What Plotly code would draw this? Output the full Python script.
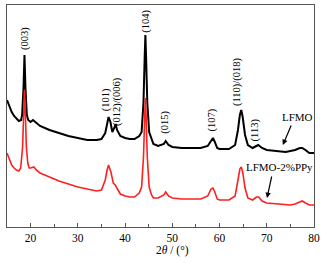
import plotly.graph_objects as go

# 2theta (deg) and intensity (a.u.)
two_theta_lfmo = [15.0, 15.5, 16.0, 16.5, 17.0, 17.5, 18.0, 18.2, 18.5, 18.7, 18.9, 19.2, 19.5,
                  20.0, 20.5, 21.0, 22.0, 24.0, 26.0, 28.0, 30.0, 32.0, 34.0, 35.0, 35.8, 36.2,
                  36.5, 36.9, 37.3, 37.8, 38.0, 38.3, 39.0, 40.0, 41.0, 42.0, 43.0, 43.5, 43.9,
                  44.15, 44.3, 44.45, 44.7, 45.1, 45.6, 46.0, 47.0, 48.2, 48.6, 49.2, 50.0, 52.0,
                  54.0, 56.0, 57.5, 58.2, 58.6, 59.0, 59.5, 60.0, 62.0, 63.3, 63.9, 64.3, 64.6,
                  64.9, 65.4, 66.0, 67.0, 67.8, 68.2, 69.0, 70.0, 72.0, 74.0, 75.0, 76.0, 77.0,
                  77.5, 78.2, 79.0, 80.0]
intensity_lfmo = [127, 120, 115, 111, 108, 106, 107, 112, 140, 172, 140, 112, 107,
                  105, 107, 105, 101, 97, 94, 91, 89, 87, 87, 88, 94, 105,
                  110, 105, 95, 100, 103, 97, 91, 89, 88, 88, 91, 95, 125,
                  170, 192, 170, 125, 95, 87, 83, 81, 83, 86, 82, 80, 79,
                  79, 79, 81, 87, 89, 85, 79, 78, 78, 82, 97, 112, 117,
                  110, 92, 82, 79, 81, 82, 79, 77, 76, 75, 76, 77, 79,
                  79, 77, 74, 74]

two_theta_ppy = [15.0, 15.5, 16.0, 16.5, 17.0, 17.5, 17.9, 18.3, 18.55, 18.7, 18.85, 19.1, 19.4,
                 19.7, 20.0, 20.7, 21.2, 22.0, 24.0, 26.0, 28.0, 30.0, 32.0, 34.0, 35.0, 35.8,
                 36.2, 36.5, 37.0, 37.5, 37.9, 38.3, 39.0, 40.0, 41.0, 42.0, 43.0, 43.5, 43.9,
                 44.15, 44.3, 44.45, 44.7, 45.1, 45.6, 46.0, 47.0, 48.2, 48.6, 49.2, 50.0, 52.0,
                 54.0, 56.0, 57.5, 58.2, 58.6, 59.0, 59.5, 60.0, 62.0, 63.3, 63.9, 64.3, 64.6,
                 64.9, 65.4, 66.0, 67.0, 67.8, 68.3, 69.0, 70.0, 72.0, 74.0, 75.0, 76.0, 77.0,
                 77.5, 78.2, 79.0, 80.0]
intensity_ppy = [74, 67, 62, 59, 57, 56, 59, 80, 120, 137, 120, 80, 64,
                 59, 59, 60, 57, 54, 50, 46, 43, 40, 38, 36, 37, 47,
                 57, 62, 55, 44, 42, 39, 33, 31, 30, 30, 34, 40, 70,
                 110, 129, 110, 70, 40, 32, 29, 29, 32, 35, 31, 29, 28,
                 28, 28, 31, 38, 39, 35, 28, 27, 27, 31, 47, 58, 60,
                 55, 39, 29, 27, 30, 30, 26, 24, 23, 22, 22, 23, 25,
                 26, 24, 22, 22]

peak_labels = ["(003)", "(101)", "(012)/(006)", "(104)", "(015)", "(107)", "(110)/(018)", "(113)"]
peak_label_x = [18.8, 36.0, 38.3, 44.4, 48.4, 58.3, 63.7, 67.6]
peak_label_y = [189, 127, 125, 206, 105, 107, 145, 97]

series_names = ["LFMO", "LFMO-2%PPy"]
x_ticks = [20, 30, 40, 50, 60, 70, 80]

FONT = "Liberation Serif, Times New Roman, serif"
AXC = "#555555"

fig = go.Figure()
fig.add_trace(go.Scatter(x=two_theta_lfmo, y=intensity_lfmo, mode="lines",
                         line=dict(color="#000000", width=2.0), name=series_names[0]))
fig.add_trace(go.Scatter(x=two_theta_ppy, y=intensity_ppy, mode="lines",
                         line=dict(color="#ff1f1f", width=1.6), name=series_names[1]))

annotations = []
for t, x, y in zip(peak_labels, peak_label_x, peak_label_y):
    annotations.append(dict(x=x, y=y, text=t, textangle=-90, showarrow=False,
                            font=dict(family=FONT, size=10.5, color="#000000"),
                            xanchor="center", yanchor="middle"))

# series labels with arrows
annotations.append(dict(x=76.4, y=110, text=series_names[0], showarrow=False,
                        font=dict(family=FONT, size=11, color="#000000")))
annotations.append(dict(x=73.4, y=82, ax=9, ay=-21, text="", showarrow=True,
                        arrowhead=2, arrowsize=0.9, arrowwidth=1.2, arrowcolor="#000000"))
annotations.append(dict(x=72.6, y=60, text=series_names[1], showarrow=False,
                        font=dict(family=FONT, size=11, color="#000000")))
annotations.append(dict(x=70.05, y=29, ax=5, ay=-23, text="", showarrow=True,
                        arrowhead=2, arrowsize=0.9, arrowwidth=1.2, arrowcolor="#000000"))
annotations.append(dict(x=50, y=-0.104, xref="x", yref="paper", text="2<i>θ</i> / (°)",
                        showarrow=False, yanchor="middle",
                        font=dict(family=FONT, size=11.5, color="#000000")))

fig.update_layout(
    width=330, height=267,
    margin=dict(l=7, r=16, t=5, b=40),
    paper_bgcolor="white", plot_bgcolor="white",
    showlegend=False,
    annotations=annotations,
    xaxis=dict(range=[15, 80], tickvals=x_ticks, ticks="inside", ticklen=4, tickwidth=1,
               tickcolor=AXC, showline=True, linecolor=AXC, linewidth=1.2, mirror=True,
               showgrid=False, zeroline=False,
               tickfont=dict(family=FONT, size=11.5, color="#000000"),
               minor=dict(dtick=5, tick0=15, ticks="inside", ticklen=3, tickcolor=AXC, showgrid=False)),
    yaxis=dict(range=[0, 222], showticklabels=False, ticks="", showline=True, linecolor=AXC,
               linewidth=1.2, mirror=True, showgrid=False, zeroline=False),
)

fig.write_html("out.html", config={"displayModeBar": False},
               post_script="document.body.style.margin='0px';document.body.style.overflow='hidden';")
